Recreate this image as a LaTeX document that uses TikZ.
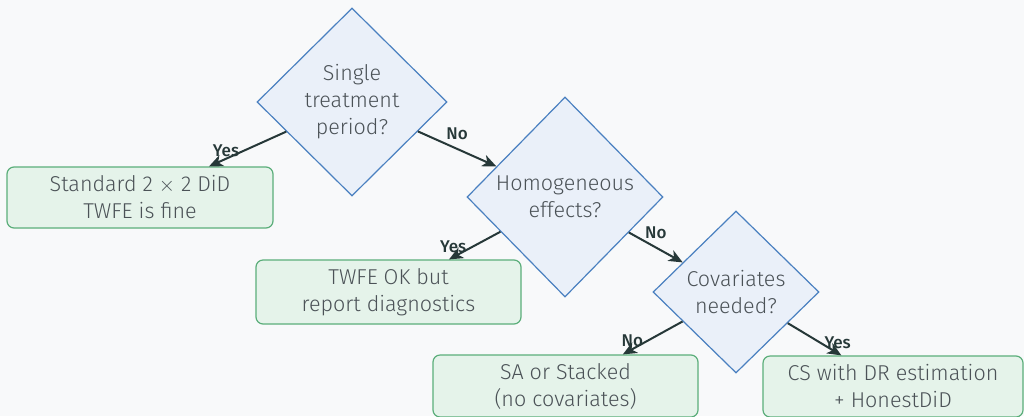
\documentclass[tikz,border=0pt]{standalone}
\usepackage{fontspec}
\setmainfont{Fira Sans}
\newfontfamily\lightfont{Fira Sans Light}
\newfontfamily\medfont{Fira Sans Medium}
\usetikzlibrary{shapes.geometric,arrows.meta}
\definecolor{qfill}{HTML}{EAF0F9}
\definecolor{qline}{HTML}{4A80C0}
\definecolor{afill}{HTML}{E5F3EA}
\definecolor{aline}{HTML}{5BAE7A}
\definecolor{txt}{HTML}{4B5257}
\definecolor{edgecol}{HTML}{263838}
\definecolor{bg}{HTML}{F8F9FA}
\tikzset{
  question/.style={diamond, draw=qline, fill=qfill, line width=1.2pt, inner sep=0pt,
    align=center, text=txt, font=\lightfont\fontsize{21.5}{27}\selectfont},
  answer/.style={rectangle, rounded corners=7pt, draw=aline, fill=afill, line width=1.2pt,
    align=center, text=txt, font=\lightfont\fontsize{21.5}{27}\selectfont, inner sep=0pt},
  link/.style={draw=edgecol, line width=2pt, -{Stealth[length=14pt,width=12pt,inset=4pt]}},
  tag/.style={text=edgecol, font=\medfont\fontsize{17}{20}\selectfont, inner sep=1pt}
}
\begin{document}
\begin{tikzpicture}[x=1pt,y=-1pt]
	\fill[bg] (0,0) rectangle (1024,416);
	\useasboundingbox (0,0) rectangle (1024,416);
	% questions
	\node[question, minimum width=190pt, minimum height=188pt] (q1) at (352,102) {Single\\treatment\\period?};
	\node[question, minimum width=196pt, minimum height=200pt] (q2) at (565,197) {Homogeneous\\effects?};
	\node[question, minimum width=166pt, minimum height=162pt] (q3) at (736,292) {Covariates\\needed?};
	% answers
	\node[answer, minimum width=266pt, minimum height=61pt] (a1) at (140,197.5) {Standard 2 $\times$ 2 DiD\\TWFE is fine};
	\node[answer, minimum width=265pt, minimum height=64pt] (a2) at (388.5,292) {TWFE OK but\\report diagnostics};
	\node[answer, minimum width=265pt, minimum height=62pt] (a3) at (565.5,386) {SA or Stacked\\(no covariates)};
	\node[answer, minimum width=260pt, minimum height=61pt] (a4) at (893,386.5) {CS with DR estimation\\+ HonestDiD};
	% links
	\draw[link] (q1) -- node[tag, pos=0.78, above=0pt] {Yes} (a1);
	\draw[link] (q1) -- node[tag, pos=0.5, above=7pt] {No} (q2);
	\draw[link] (q2) -- node[tag, pos=0.92, above=2pt] {Yes} (a2);
	\draw[link] (q2) -- node[tag, pos=0.5, above=7pt] {No} (q3);
	\draw[link] (q3) -- node[tag, pos=0.84, above=0pt] {No} (a3);
	\draw[link] (q3) -- node[tag, pos=0.93, above=2pt] {Yes} (a4);
\end{tikzpicture}
\end{document}
